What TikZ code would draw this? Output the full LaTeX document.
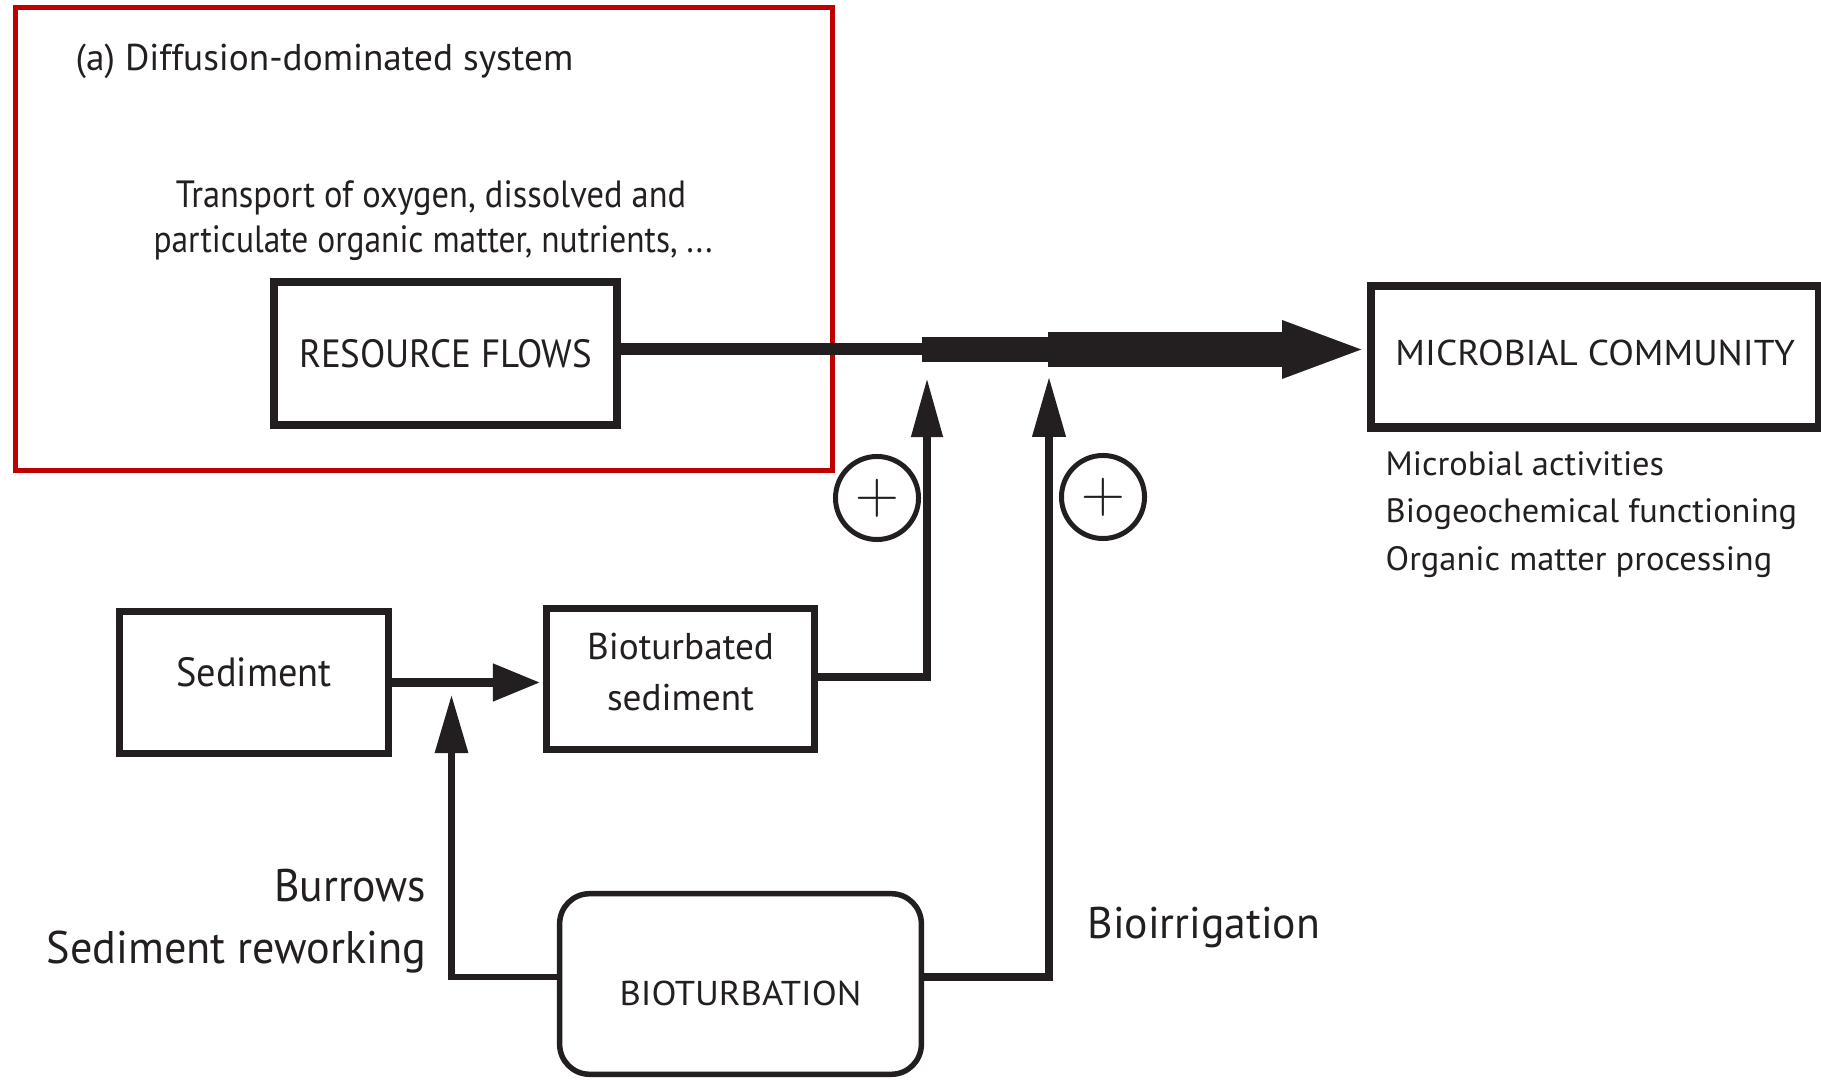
\documentclass[tikz,border=0pt]{standalone}
\usepackage{fontspec}
\setmainfont{PT Sans}
\usetikzlibrary{arrows.meta}
\definecolor{ink}{HTML}{231F20}
\definecolor{panelred}{RGB}{192,0,0}
\newcommand\myfs[2]{\fontsize{#1}{#2}\selectfont}
\newcommand\hstr[1]{\addfontfeature{FakeStretch=#1}}
\begin{document}
\begin{tikzpicture}[x=0.01cm,y=-0.01cm,
  lbl/.style={inner sep=0pt, text=ink},
  heavybox/.style={draw=ink, line width=2.3pt, rectangle, inner sep=0pt, text=ink},
  medbox/.style={draw=ink, line width=2pt, rectangle, inner sep=0pt, text=ink},
  plusnode/.style={draw=ink, circle, line width=1.42pt, minimum size=0.83cm, inner sep=0pt, text=ink, font=\myfs{19}{19}},
  flow/.style={draw=ink, line cap=butt}
]
\useasboundingbox (0,0) rectangle (1821,1080);
\fill[white] (0,0) rectangle (1821,1080);

% panel frame
\draw[panelred, line width=1.42pt] (15.5,7.5) rectangle (832.5,470.5);

% texts
\node[lbl, anchor=base west, font=\myfs{10.6}{12}] (title) at (75,70.6) {(a) Diffusion-dominated system};
\node[lbl, anchor=base, font=\myfs{10.8}{12}\hstr{0.907}] (tr1) at (431,208) {Transport of oxygen, dissolved and};
\node[lbl, anchor=base, font=\myfs{10.8}{12}\hstr{0.881}] (tr2) at (433,253) {particulate organic matter, nutrients, ...};

\node[lbl, anchor=base west, font=\myfs{9.6}{12}\hstr{1.02}] (md1) at (1385,476) {Microbial activities};
\node[lbl, anchor=base west, font=\myfs{9.6}{12}\hstr{1.02}] (md2) at (1385,523) {Biogeochemical functioning};
\node[lbl, anchor=base west, font=\myfs{9.6}{12}\hstr{1.02}] (md3) at (1385,571) {Organic matter processing};

\node[lbl, anchor=base east, font=\myfs{13}{15}\hstr{0.955}] (bur) at (427,902) {Burrows};
\node[lbl, anchor=base east, font=\myfs{13}{15}\hstr{0.967}] (rew) at (427,964) {Sediment reworking};
\node[lbl, anchor=base west, font=\myfs{12.6}{15}\hstr{0.985}] (irr) at (1087,939) {Bioirrigation};

% boxes
\node[heavybox, minimum width=3.425cm, minimum height=1.425cm, font=\myfs{11.2}{13}\hstr{0.94}] (rf) at (445.5,353.5) {RESOURCE FLOWS};
\node[heavybox, minimum width=4.475cm, minimum height=1.41cm, font=\myfs{10.2}{12}\hstr{1.045}, text height=0.25cm, text depth=0.07cm] (mc) at (1595.25,357) {MICROBIAL COMMUNITY};
\node[medbox, minimum width=2.69cm, minimum height=1.42cm, font=\myfs{11.6}{13}\hstr{0.94}, text height=0.29cm, text depth=0.2cm] (sed) at (254,682.5) {Sediment};
\node[medbox, minimum width=2.68cm, minimum height=1.41cm, font=\myfs{10.6}{14.5}] (bs) at (680.5,679) {\raisebox{-0.05cm}[0pt][0pt]{\begin{tabular}{@{}c@{}}Bioturbated\\sediment\end{tabular}}};
\node[draw=ink, line width=1.56pt, rounded corners=0.3cm, minimum width=3.615cm, minimum height=1.805cm, inner sep=0pt, text=ink, font=\myfs{9.8}{12}\hstr{1.06}, text height=0.42cm, text depth=0cm] (bio) at (740.5,984) {BIOTURBATION};

% plus signs
\node[plusnode] (p1) at (877,498) {$+$};
\node[plusnode] (p2) at (1103,497) {$+$};

% helper coordinates
\coordinate (j1) at (922,349.5);
\coordinate (j2) at (1048,349.5);
\coordinate (t1) at (927,378);
\coordinate (t2) at (1049,377);
\coordinate (t3) at (451.5,695);
\coordinate (b2) at (1049,977);
\coordinate (b3) at (451.5,977);

% main resource flow
\draw[flow, line width=3.41pt] (rf.east |- j1) -- (j1);
\draw[flow, line width=7.1pt] (j1) -- (j2);
\draw[flow, line width=9.96pt, -{Triangle[length=24.5pt,width=14.5pt]}, shorten >=-0.3pt] (j2) -- (j2 -| mc.west);

% sediment to bioturbated sediment
\draw[flow, line width=2.28pt, -{Triangle[length=13.4pt,width=10.2pt]}, shorten >=0.8pt] (sed.east) -- (sed.east -| bs.west);

% bioturbated sediment to flow
\draw[flow, line width=2.28pt, -{Triangle[length=16.8pt,width=8.5pt]}] (bs.east |- 0,677) -- (927,677) -- (t1);

% bioirrigation
\draw[flow, line width=2pt, -{Triangle[length=17pt,width=9.1pt]}] (b2 -| bio.east) -- (b2) -- (t2);

% burrows
\draw[flow, line width=1.8pt, -{Triangle[length=16.5pt,width=9.1pt]}] (b3 -| bio.west) -- (b3) -- (t3);
\end{tikzpicture}
\end{document}
